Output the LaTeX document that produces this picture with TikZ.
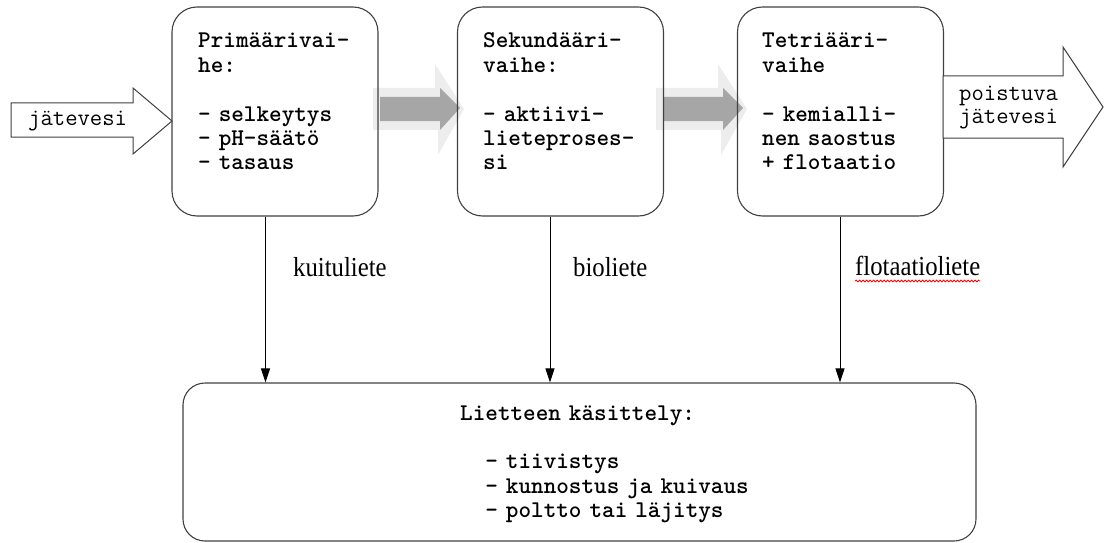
\documentclass[tikz,border=0pt]{standalone}
\usepackage{fontspec}
\newfontfamily\serf{Liberation Serif}
\usetikzlibrary{arrows.meta,decorations.pathmorphing}
\begin{document}
\begin{tikzpicture}[x=1pt,y=-1pt,
  stagebox/.style={draw=black!75, line width=1.1pt, rounded corners=25pt, inner sep=0pt},
  boxtext/.style={font=\ttfamily\bfseries\fontsize{24}{24.4}\selectfont, align=left, text width=220pt, inner sep=0pt, anchor=base west},
  arrtext/.style={font=\ttfamily\fontsize{24}{24}\selectfont, align=left, text width=120pt, inner sep=0pt, anchor=base west},
  lbl/.style={font=\serf\fontsize{27.5}{30}\selectfont, inner sep=0pt, anchor=base west},
  flow/.style={draw=black, line width=0.9pt, -{Triangle[length=14pt,width=9pt]}},
  hollow/.style={draw=black!75, line width=1pt, fill=white},
  glow/.style={fill=black!7},
  dark/.style={fill=black!35},
  grayarr/.pic={
    \fill[glow] (-5,-21) -- (57,-21) -- (57,-45) -- (86,0) -- (60,46) -- (60,21) -- (-5,21) -- cycle;
    \fill[dark] (2,-12) -- (62,-12) -- (62,-21) -- (82,-1) -- (62,21) -- (62,12) -- (2,12) -- cycle;
  },
]
\useasboundingbox (0,0) rectangle (1104,543);

% flow arrows between stages
\pic at (378,109) {grayarr};
\pic at (661,109) {grayarr};

% stage boxes
\node[stagebox, minimum width=206pt, minimum height=209pt] (b1) at (275,111.5) {};
\node[stagebox, minimum width=206pt, minimum height=209pt] (b2) at (560.5,111.5) {};
\node[stagebox, minimum width=206pt, minimum height=209pt] (b3) at (840.5,111.5) {};
\node[stagebox, rounded corners=22pt, minimum width=793pt, minimum height=158pt] (bot) at (579.5,462) {};

% input / output arrows
\draw[hollow] (11,103) -- (133,103) -- (133,88) -- (172,121) -- (133,154) -- (133,137) -- (11,137) -- cycle;
\draw[hollow] (943,76) -- (1063,76) -- (1063,47) -- (1103,107) -- (1063,167) -- (1063,138) -- (943,138) -- cycle;
\node[arrtext] (in) at (28,125) {jätevesi};
\node[arrtext] (out) at (959,100) {poistuva\\jätevesi};

% stage texts
\node[boxtext] (t1) at (198,48) {Primäärivai-\\he:\\[24.4pt]- selkeytys\\- pH-säätö\\- tasaus};
\node[boxtext] (t2) at (483,48) {Sekundääri-\\vaihe:\\[24.4pt]- aktiivi-\\lieteproses-\\si};
\node[boxtext] (t3) at (762,48) {Tetriääri-\\vaihe\\[24.4pt]- kemialli-\\nen saostus\\+ flotaatio};
\node[boxtext, text width=360pt] (tb) at (460,420) {Lietteen käsittely:\\[24.4pt]\hspace*{25.2pt}- tiivistys\\\hspace*{25.2pt}- kunnostus ja kuivaus\\\hspace*{25.2pt}- poltto tai läjitys};

% sludge flows
\draw[flow] ([xshift=-9.5pt]b1.south) -- ([xshift=-9.5pt]b1.south |- bot.north);
\draw[flow] ([xshift=-10.5pt]b2.south) -- ([xshift=-10.5pt]b2.south |- bot.north);
\draw[flow] ([xshift=-0.5pt]b3.south) -- ([xshift=-0.5pt]b3.south |- bot.north);

\node[lbl] (l1) at (293,276) {\scalebox{0.9}[1]{kuituliete}};
\node[lbl] (l2) at (573,276) {\scalebox{0.9}[1]{bioliete}};
\node[lbl] (l3) at (855,275) {\scalebox{0.9}[1]{flotaatioliete}};
\draw[red, line width=0.8pt, decorate, decoration={snake, amplitude=0.9pt, segment length=3.5pt}]
  ([yshift=-6pt]l3.base west) -- ([yshift=-6pt]l3.base east);
\end{tikzpicture}
\end{document}
